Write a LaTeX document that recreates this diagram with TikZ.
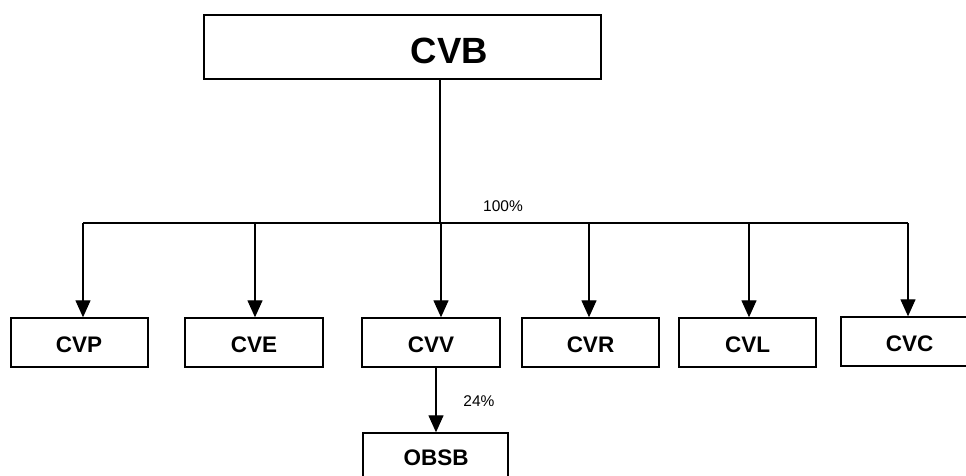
\documentclass[tikz,border=0pt]{standalone}
\usepackage{fontspec}
\setmainfont{Liberation Sans}
\usetikzlibrary{arrows.meta}
\begin{document}
\begin{tikzpicture}[x=1pt,y=-1pt,
  box/.style={draw=black, line width=1.4pt, rectangle, inner sep=0pt, minimum width=137pt, minimum height=49pt},
  bigtext/.style={font=\fontsize{36.5}{40}\selectfont\bfseries, inner sep=0pt},
  boxtext/.style={font=\fontsize{22.5}{26}\selectfont\bfseries, inner sep=0pt},
  pct/.style={font=\fontsize{15.5}{18}\selectfont, inner sep=0pt},
  wire/.style={line width=1.3pt},
  arr/.style={line width=1.3pt, -{Triangle[length=17pt,width=15pt]}, shorten >=0pt}
]
\clip (0,0) rectangle (966,475);
\fill[white] (0,0) rectangle (966,475);

% top box
\node[box, minimum width=397pt, minimum height=64pt] (cvb) at (402.5,47) {};
\node[bigtext] (cvbt) at (449.5,50.5) {CVB};

% second row
\node[box] (cvp) at (79.5,342.5) {};
\node[boxtext] (cvpt) at (79,345) {CVP};
\node[box, minimum width=138pt] (cve) at (254,342.5) {};
\node[boxtext] (cvet) at (254,345) {CVE};
\node[box, minimum width=138pt] (cvv) at (431,342.5) {};
\node[boxtext] (cvvt) at (431,345) {CVV};
\node[box] (cvr) at (590.5,342.5) {};
\node[boxtext] (cvrt) at (590.5,345) {CVR};
\node[box] (cvl) at (747.5,342.5) {};
\node[boxtext] (cvlt) at (747.5,345) {CVL};
\node[box] (cvc) at (909.5,341.5) {};
\node[boxtext] (cvct) at (909.5,344) {CVC};

% bottom
\node[box, minimum width=145pt] (obsb) at (435.5,457.5) {};
\node[boxtext] (obsbt) at (436,458) {OBSB};

% bus
\coordinate (j0) at (440,223);
\coordinate (b1) at (83,223);
\coordinate (b2) at (255,223);
\coordinate (b3) at (441,223);
\coordinate (b4) at (589,223);
\coordinate (b5) at (749,223);
\coordinate (b6) at (908,223);

\draw[wire] (cvb.south -| j0) -- (j0);
\draw[wire] (b1) -- (b6);
\draw[arr] (b1) -- (b1 |- cvp.north);
\draw[arr] (b2) -- (b2 |- cve.north);
\draw[arr] (b3) -- (b3 |- cvv.north);
\draw[arr] (b4) -- (b4 |- cvr.north);
\draw[arr] (b5) -- (b5 |- cvl.north);
\draw[arr] (b6) -- (b6 |- cvc.north);

\node[pct] (p100) at (503,206) {100\%};

% CVV -> OBSB
\coordinate (s7) at (436,0);
\draw[arr] (s7 |- cvv.south) -- (s7 |- obsb.north);
\node[pct] (p24) at (479,401) {24\%};
\end{tikzpicture}
\end{document}
